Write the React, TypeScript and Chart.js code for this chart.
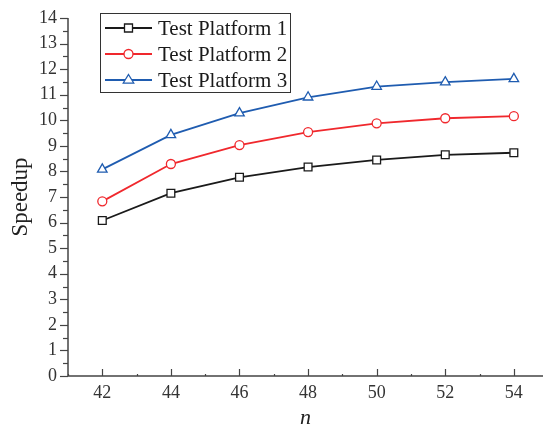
import React, { useEffect, useRef } from "react";
import { Chart, registerables } from "chart.js";

Chart.register(...registerables);

const nValues = [42, 44, 46, 48, 50, 52, 54];
const platform1 = [6.08, 7.15, 7.77, 8.17, 8.45, 8.65, 8.73];
const platform2 = [6.83, 8.29, 9.03, 9.54, 9.88, 10.08, 10.16];
const platform3 = [8.08, 9.43, 10.28, 10.9, 11.32, 11.49, 11.62];
const seriesNames = ["Test Platform 1", "Test Platform 2", "Test Platform 3"];
const xTicks = [42, 44, 46, 48, 50, 52, 54];
const yTicks = [0, 1, 2, 3, 4, 5, 6, 7, 8, 9, 10, 11, 12, 13, 14];

const COLORS = ["#1a1a1a", "#f0282d", "#1f5cb0"];
const MARKERS: any[] = ["rect", "circle", "triangle"];
const RADII = [5.5, 4.5, 5.5];
const FONT = "'Liberation Serif', 'Times New Roman', serif";
const AXIS = "#444";

const AREA = { left: 68, top: 18, right: 543, bottom: 376 };

const areaPlugin = {
  id: "fixedArea",
  afterLayout(chart: any) {
    const a = AREA;
    chart.chartArea.left = a.left;
    chart.chartArea.top = a.top;
    chart.chartArea.right = a.right;
    chart.chartArea.bottom = a.bottom;
    chart.chartArea.width = a.right - a.left;
    chart.chartArea.height = a.bottom - a.top;
    const x = chart.scales.x;
    const y = chart.scales.y;
    x.left = a.left;
    x.right = a.right;
    x.width = a.right - a.left;
    x.top = a.bottom;
    x.bottom = chart.height;
    x.height = chart.height - a.bottom;
    y.left = 0;
    y.right = a.left;
    y.width = a.left;
    y.top = a.top;
    y.bottom = a.bottom;
    y.height = a.bottom - a.top;
    x.configure();
    y.configure();
    x._labelItems = null;
    y._labelItems = null;
  },
};

const axisPlugin = {
  id: "customAxes",
  afterDraw(chart: any) {
    const ctx = chart.ctx;
    const x = chart.scales.x;
    const y = chart.scales.y;
    const ca = chart.chartArea;
    ctx.save();
    ctx.strokeStyle = AXIS;
    ctx.lineWidth = 1.5;
    ctx.beginPath();
    ctx.moveTo(ca.left, ca.top);
    ctx.lineTo(ca.left, ca.bottom);
    ctx.lineTo(ca.right, ca.bottom);
    ctx.stroke();
    ctx.lineWidth = 1.2;
    for (let v = 0; v <= 14; v += 0.5) {
      const py = Math.round(y.getPixelForValue(v)) + 0.5;
      const len = Number.isInteger(v) ? 8 : 5;
      ctx.beginPath();
      ctx.moveTo(ca.left - len, py);
      ctx.lineTo(ca.left, py);
      ctx.stroke();
    }
    for (let v = 41; v <= 55; v += 1) {
      const px = Math.round(x.getPixelForValue(v)) + 0.5;
      if (px > ca.right || px < ca.left) continue;
      const len = v % 2 === 0 ? 7 : 2;
      ctx.beginPath();
      ctx.moveTo(px, ca.bottom);
      ctx.lineTo(px, ca.bottom - len);
      ctx.stroke();
    }
    const lx = 100, ly = 13, lw = 190, lh = 79;
    ctx.lineWidth = 1;
    ctx.strokeStyle = "#333";
    ctx.strokeRect(lx + 0.5, ly + 0.5, lw, lh);
    const rows = [28, 54, 80];
    chart.data.datasets.forEach((ds: any, i: number) => {
      const ry = rows[i];
      ctx.strokeStyle = ds.borderColor;
      ctx.lineWidth = 1.8;
      ctx.beginPath();
      ctx.moveTo(105, ry);
      ctx.lineTo(152, ry);
      ctx.stroke();
      ctx.fillStyle = "#fff";
      ctx.lineWidth = 1.3;
      const r = i === 0 ? 4 : i === 1 ? 4.5 : 5.5;
      ctx.beginPath();
      if (i === 0) {
        ctx.rect(128.5 - r, ry - r, 2 * r, 2 * r);
      } else if (i === 1) {
        ctx.arc(128.5, ry, r, 0, Math.PI * 2);
      } else {
        ctx.moveTo(128.5, ry - r);
        ctx.lineTo(128.5 + r * 0.95, ry + r * 0.55);
        ctx.lineTo(128.5 - r * 0.95, ry + r * 0.55);
        ctx.closePath();
      }
      ctx.fill();
      ctx.stroke();
      ctx.fillStyle = "#1a1a1a";
      ctx.font = "21px " + FONT;
      ctx.textBaseline = "middle";
      ctx.textAlign = "left";
      ctx.fillText(ds.label, 158, ry + 1);
    });
    ctx.restore();
  },
};

export default function App() {
  const ref = useRef<HTMLCanvasElement>(null);
  useEffect(() => {
    if (!ref.current) return;
    const mk = (label: string, data: number[], i: number) => ({
      label,
      data: data.map((v, k) => ({ x: nValues[k], y: v })),
      borderColor: COLORS[i],
      backgroundColor: "#fff",
      pointBackgroundColor: "#fff",
      pointBorderColor: COLORS[i],
      pointStyle: MARKERS[i],
      pointRadius: RADII[i],
      pointBorderWidth: 1.3,
      borderWidth: 1.8,
      tension: 0,
    });
    const chart = new Chart(ref.current, {
      type: "line",
      data: {
        datasets: [
          mk(seriesNames[0], platform1, 0),
          mk(seriesNames[1], platform2, 1),
          mk(seriesNames[2], platform3, 2),
        ],
      },
      options: {
        animation: false,
        responsive: false,
        maintainAspectRatio: false,
        layout: { padding: { top: 15, right: 0, left: 0, bottom: 0 } },
        plugins: { legend: { display: false }, tooltip: { enabled: false } },
        scales: {
          x: {
            type: "linear",
            min: 41,
            max: 54.85,
            grid: { display: false, drawTicks: false, tickLength: 0 },
            border: { display: false },
            afterBuildTicks: (s: any) => {
              s.ticks = xTicks.map((v) => ({ value: v }));
            },
            afterFit: (s: any) => {
              s.height = 49;
            },
            ticks: {
              padding: 6,
              color: "#333",
              font: { family: FONT, size: 18 },
              callback: (v: any) => String(v),
            },
            title: {
              display: true,
              text: "n",
              color: "#222",
              padding: { top: 0, bottom: -6 },
              font: { family: FONT, size: 22, style: "italic" },
            },
          },
          y: {
            min: 0,
            max: 14,
            grid: { display: false, drawTicks: false, tickLength: 0 },
            border: { display: false },
            afterBuildTicks: (s: any) => {
              s.ticks = yTicks.map((v) => ({ value: v }));
            },
            afterFit: (s: any) => {
              s.width = 68;
            },
            ticks: {
              padding: 11,
              color: "#333",
              font: { family: FONT, size: 18 },
            },
            title: {
              display: true,
              text: "Speedup",
              color: "#222",
              padding: { top: 7, bottom: 0 },
              font: { family: FONT, size: 23 },
            },
          },
        },
      },
      plugins: [areaPlugin, axisPlugin],
    } as any);
    return () => chart.destroy();
  }, []);
  return (
    <div style={{ position: "absolute", left: 0, top: 0, width: 543, height: 425 }}>
      <canvas ref={ref} width={543} height={425} style={{ display: "block" }} />
    </div>
  );
}
